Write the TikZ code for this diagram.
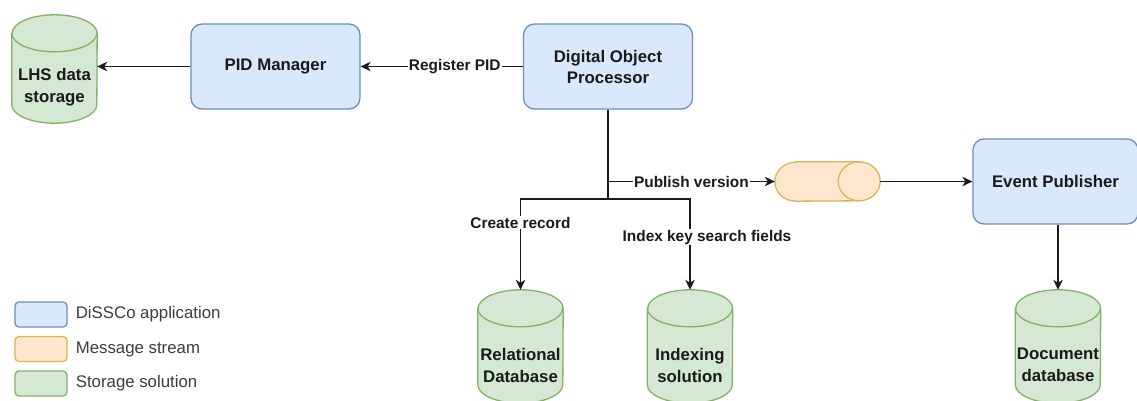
\documentclass[tikz,border=0pt]{standalone}
\usepackage{fontspec}
\setmainfont{Liberation Sans}
\usetikzlibrary{positioning,arrows.meta,calc}
\definecolor{appfill}{HTML}{DAE8FC}
\definecolor{appline}{HTML}{6C8EBF}
\definecolor{msgfill}{HTML}{FFE6CC}
\definecolor{msgline}{HTML}{D6B656}
\definecolor{dbfill}{HTML}{D5E8D4}
\definecolor{dbline}{HTML}{82B366}
\definecolor{ink}{HTML}{1A1A1A}
\tikzset{
  app/.style     ={draw=appline, fill=appfill, line width=1.3pt, rounded corners=11pt,
                   minimum width=169pt, minimum height=85pt, align=center,
                   font=\fontsize{16.8}{21}\selectfont\bfseries, text=ink},
  store/.style   ={minimum width=85pt, minimum height=113pt, inner sep=0pt},
  storetxt/.style={align=center, inner sep=0pt, text=ink,
                   font=\fontsize{16.8}{22}\selectfont\bfseries},
  queue/.style   ={minimum width=105pt, minimum height=39pt, inner sep=0pt},
  dbbody/.style  ={draw=dbline, fill=dbfill, line width=1.3pt},
  msgbody/.style ={draw=msgline, fill=msgfill, line width=1.3pt},
  flow/.style    ={draw=ink, line width=1.4pt},
  arr/.style     ={flow, -{Stealth[length=10pt,width=9.5pt,inset=3pt]}},
  elabel/.style  ={fill=white, inner sep=1pt, text=ink,
                   font=\fontsize{15.4}{18}\selectfont\bfseries},
  key/.style     ={line width=1.3pt, rounded corners=4pt, minimum width=52pt, minimum height=25pt},
  keytxt/.style  ={anchor=west, inner sep=0pt, text=ink!85, font=\fontsize{16.8}{20}\selectfont},
}
% storage cylinder drawn round a store node
\newcommand{\dbcyl}[1]{%
  \filldraw[dbbody] ([yshift=-18.5pt]#1.north west) -- ([yshift=18.5pt]#1.south west)
    arc[start angle=180,end angle=360,x radius=42.5pt,y radius=18.5pt]
    -- ([yshift=-18.5pt]#1.north east)
    arc[start angle=0,end angle=180,x radius=42.5pt,y radius=18.5pt] -- cycle;
  \draw[dbbody,fill=none] ([yshift=-18.5pt]#1.north west)
    arc[start angle=180,end angle=360,x radius=42.5pt,y radius=18.5pt];}
% lying cylinder for the message stream
\newcommand{\msgcyl}[1]{%
  \filldraw[msgbody] ([xshift=21pt]#1.north west) -- ([xshift=-21pt]#1.north east)
    arc[start angle=90,end angle=-90,x radius=21pt,y radius=19.5pt]
    -- ([xshift=21pt]#1.south west)
    arc[start angle=270,end angle=90,x radius=21pt,y radius=19.5pt] -- cycle;
  \draw[msgbody,fill=none] ([xshift=-21pt]#1.north east)
    arc[start angle=90,end angle=270,x radius=21pt,y radius=19.5pt];}

\begin{document}
\begin{tikzpicture}[x=1pt,y=-1pt]
  \useasboundingbox (0,0) rectangle (1137,401);
  \clip (0,0) rectangle (1137,401);
  % applications
  \node[app] (pid) at (275.5,66.5) {PID Manager};
  \node[app] (dop) at (608,66.5) {Digital Object\\Processor};
  \node[app, minimum width=165pt] (ep) at (1055.5,181.5) {Event Publisher};
  % storage
  \node[store, minimum height=108pt] (lhs) at (54.5,69) {}; \dbcyl{lhs}
  \node[store] (rdb) at (520.5,346.5) {}; \dbcyl{rdb}
  \node[store] (idx) at (690,346.5) {}; \dbcyl{idx}
  \node[store] (doc) at (1058,346.5) {}; \dbcyl{doc}
  \node[storetxt] (lhs-t) at ([yshift=-18.5pt]lhs.center) {LHS data\\storage};
  \node[storetxt] (rdb-t) at ([yshift=-18.5pt]rdb.center) {Relational\\Database};
  \node[storetxt] (idx-t) at ([yshift=-18.5pt]idx.center) {Indexing\\solution};
  \node[storetxt] (doc-t) at ([yshift=-18.5pt]doc.center) {Document\\database};
  % message stream
  \node[queue] (mq) at (827.5,181.5) {}; \msgcyl{mq}
  % connectors
  \coordinate (tap) at (dop.south |- mq.west);
  \coordinate (fork) at (608,199);
  \draw[arr] (pid.west) -- (pid.west -| lhs.east);
  \draw[arr] (dop.west) -- node[elabel, pos=.42]{Register PID} (pid.east);
  \draw[flow] (dop.south) -- (fork);
  \draw[arr] (tap) -- node[elabel]{Publish version} (mq.west);
  \draw[arr] (fork) -| node[elabel, pos=.63]{Create record} (rdb.north);
  \draw[arr] (fork) -| node[elabel, pos=.71, xshift=17pt]{Index key search fields} (idx.north);
  \draw[arr] (mq.east) -- (ep.west);
  \draw[arr] (ep.south -| doc.north) -- (doc.north);
  % legend
  \foreach \c/\t [count=\i] in {app/DiSSCo application, msg/Message stream, db/Storage solution}{
    \node[key, draw=\c line, fill=\c fill] (key-\i) at (41,{280+34.5*\i}) {};
    \node[keytxt, right=8pt of key-\i] (key-\i-t) {\t};
  }
\end{tikzpicture}
\end{document}
